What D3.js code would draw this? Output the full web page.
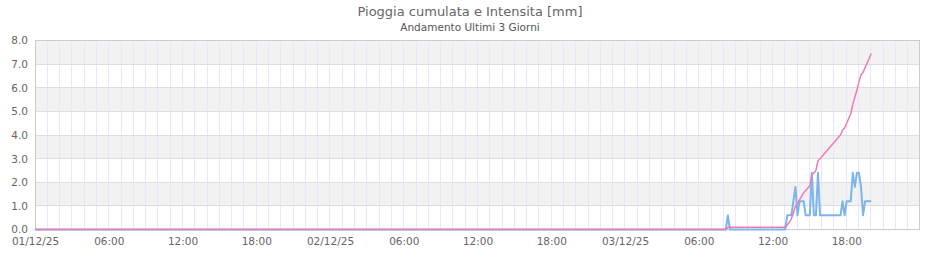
<!DOCTYPE html>
<html>
<head>
<meta charset="utf-8">
<script src="https://cdn.jsdelivr.net/npm/d3@7"></script>
<style>
  body { margin: 0; background: #fff; }
  svg { display: block; font-family: "DejaVu Sans", sans-serif; }
</style>
</head>
<body>
<svg id="chart" width="940" height="260"></svg>
<script>
// DATA
const chartTitle = "Pioggia cumulata e Intensita [mm]";
const chartSubtitle = "Andamento Ultimi 3 Giorni";

const rangeStart = "2025-12-01 00:00";
const rangeEnd = "2025-12-04 00:00";

// six-hour tick labels
const tickLabels = ["01/12/25", "06:00", "12:00", "18:00",
                    "02/12/25", "06:00", "12:00", "18:00",
                    "03/12/25", "06:00", "12:00", "18:00"];
const yTicks = [0, 1, 2, 3, 4, 5, 6, 7, 8];

// sample times (rain only on the last day)
const sampleTimes = [
    "2025-12-01 00:00", "2025-12-03 08:12", "2025-12-03 08:22", "2025-12-03 08:32",
    "2025-12-03 13:02", "2025-12-03 13:12", "2025-12-03 13:22", "2025-12-03 13:32", "2025-12-03 13:42", "2025-12-03 13:52",
    "2025-12-03 14:02", "2025-12-03 14:12", "2025-12-03 14:22", "2025-12-03 14:32", "2025-12-03 14:42", "2025-12-03 14:52",
    "2025-12-03 15:02", "2025-12-03 15:12", "2025-12-03 15:22", "2025-12-03 15:32", "2025-12-03 15:42", "2025-12-03 15:52",
    "2025-12-03 16:02", "2025-12-03 16:12", "2025-12-03 16:22", "2025-12-03 16:32", "2025-12-03 16:42", "2025-12-03 16:52",
    "2025-12-03 17:02", "2025-12-03 17:12", "2025-12-03 17:22", "2025-12-03 17:32", "2025-12-03 17:42", "2025-12-03 17:52",
    "2025-12-03 18:02", "2025-12-03 18:12", "2025-12-03 18:22", "2025-12-03 18:32", "2025-12-03 18:42", "2025-12-03 18:52",
    "2025-12-03 19:02", "2025-12-03 19:12", "2025-12-03 19:22", "2025-12-03 19:32", "2025-12-03 19:42", "2025-12-03 19:52",
    "2025-12-03 20:02"
];

// intensity [mm/h]
const intensity = [
    0, 0, 0.6, 0,
    0, 0.6, 0.6, 0.6, 1.2, 1.8,
    0.6, 1.2, 1.2, 1.2, 0.6, 0.6,
    0.6, 2.4, 0.6, 0.6, 2.4, 0.6,
    0.6, 0.6, 0.6, 0.6, 0.6, 0.6,
    0.6, 0.6, 0.6, 0.6, 1.2, 0.6,
    1.2, 1.2, 1.2, 2.4, 1.8, 2.4,
    2.4, 1.8, 0.6, 1.2, 1.2, 1.2,
    1.2
];

// cumulated rain [mm]
const cumulated = [
    0, 0, 0.1, 0.1,
    0.1, 0.2, 0.3, 0.45, 0.7, 1.0,
    1.1, 1.25, 1.4, 1.55, 1.65, 1.75,
    1.85, 2.3, 2.4, 2.5, 2.9, 3.0,
    3.1, 3.2, 3.3, 3.4, 3.5, 3.6,
    3.7, 3.8, 3.9, 4.0, 4.2, 4.3,
    4.5, 4.7, 4.9, 5.3, 5.6, 5.9,
    6.25, 6.55, 6.65, 6.85, 7.05, 7.25,
    7.45
];

const svg = d3.select("#chart"),
    width = +svg.attr("width"),
    height = +svg.attr("height"),
    margin = { top: 40.5, right: 20, bottom: 30.5, left: 35 };

const parse = d3.timeParse("%Y-%m-%d %H:%M");
const t0 = parse(rangeStart), t1 = parse(rangeEnd);

const x = d3.scaleTime().domain([t0, t1]).range([margin.left, width - margin.right]);
const y = d3.scaleLinear().domain([0, 8]).range([height - margin.bottom, margin.top]);

const crisp = v => Math.floor(v) + 0.5;

// alternate bands
svg.append("g").selectAll("rect")
    .data(yTicks.slice(1).filter(v => v % 2 === 0))
    .join("rect")
    .attr("x", x(t0))
    .attr("y", d => y(d))
    .attr("width", x(t1) - x(t0))
    .attr("height", d => y(d - 1) - y(d))
    .attr("fill", "#f2f2f2");

// hourly grid
svg.append("g").selectAll("line")
    .data(d3.timeHour.range(t0, t1))
    .join("line")
    .attr("x1", d => crisp(x(d))).attr("x2", d => crisp(x(d)))
    .attr("y1", y(8)).attr("y2", y(0))
    .attr("stroke", "#e8e6fa");

// horizontal grid
svg.append("g").selectAll("line")
    .data(yTicks)
    .join("line")
    .attr("x1", x(t0)).attr("x2", x(t1))
    .attr("y1", d => crisp(y(d))).attr("y2", d => crisp(y(d)))
    .attr("stroke", "#dedede");

// plot border
svg.append("rect")
    .attr("x", crisp(x(t0))).attr("y", crisp(y(8)))
    .attr("width", Math.round(x(t1) - x(t0)) - 1)
    .attr("height", Math.round(y(0) - y(8)))
    .attr("fill", "none")
    .attr("stroke", "#cccccc");

// axes
const xAxis = d3.axisBottom(x)
    .tickValues(d3.timeHour.every(6).range(t0, t1))
    .tickFormat((d, i) => tickLabels[i])
    .tickSize(0).tickPadding(8);

svg.append("g")
    .attr("transform", `translate(0,${height - margin.bottom})`)
    .call(xAxis)
    .call(g => g.select(".domain").remove())
    .selectAll("text")
    .attr("font-family", "DejaVu Sans")
    .attr("font-size", "10.5px")
    .attr("fill", "#666");

const yAxis = d3.axisLeft(y)
    .tickValues(yTicks)
    .tickFormat(d3.format(".1f"))
    .tickSize(0).tickPadding(7);

svg.append("g")
    .attr("transform", `translate(${margin.left},0)`)
    .call(yAxis)
    .call(g => g.select(".domain").remove())
    .selectAll("text")
    .attr("font-family", "DejaVu Sans")
    .attr("font-size", "10.5px")
    .attr("fill", "#666");

// series
const points = sampleTimes.map((s, i) => ({ t: parse(s), inten: intensity[i], cum: cumulated[i] }));

svg.append("path")
    .datum(points)
    .attr("fill", "none")
    .attr("stroke", "#7cb5ec")
    .attr("stroke-width", 2)
    .attr("stroke-linejoin", "round")
    .attr("d", d3.line().x(d => x(d.t)).y(d => y(d.inten)));

svg.append("path")
    .datum(points)
    .attr("fill", "none")
    .attr("stroke", "#f07ab4")
    .attr("stroke-width", 1.5)
    .attr("stroke-linejoin", "round")
    .attr("d", d3.line().x(d => x(d.t)).y(d => y(d.cum)));

// titles
svg.append("text")
    .attr("x", width / 2).attr("y", 15.5)
    .attr("text-anchor", "middle")
    .attr("font-size", "13px")
    .attr("fill", "#666")
    .text(chartTitle);

svg.append("text")
    .attr("x", width / 2).attr("y", 31)
    .attr("text-anchor", "middle")
    .attr("font-size", "10.5px")
    .attr("fill", "#555")
    .text(chartSubtitle);
</script>
</body>
</html>
